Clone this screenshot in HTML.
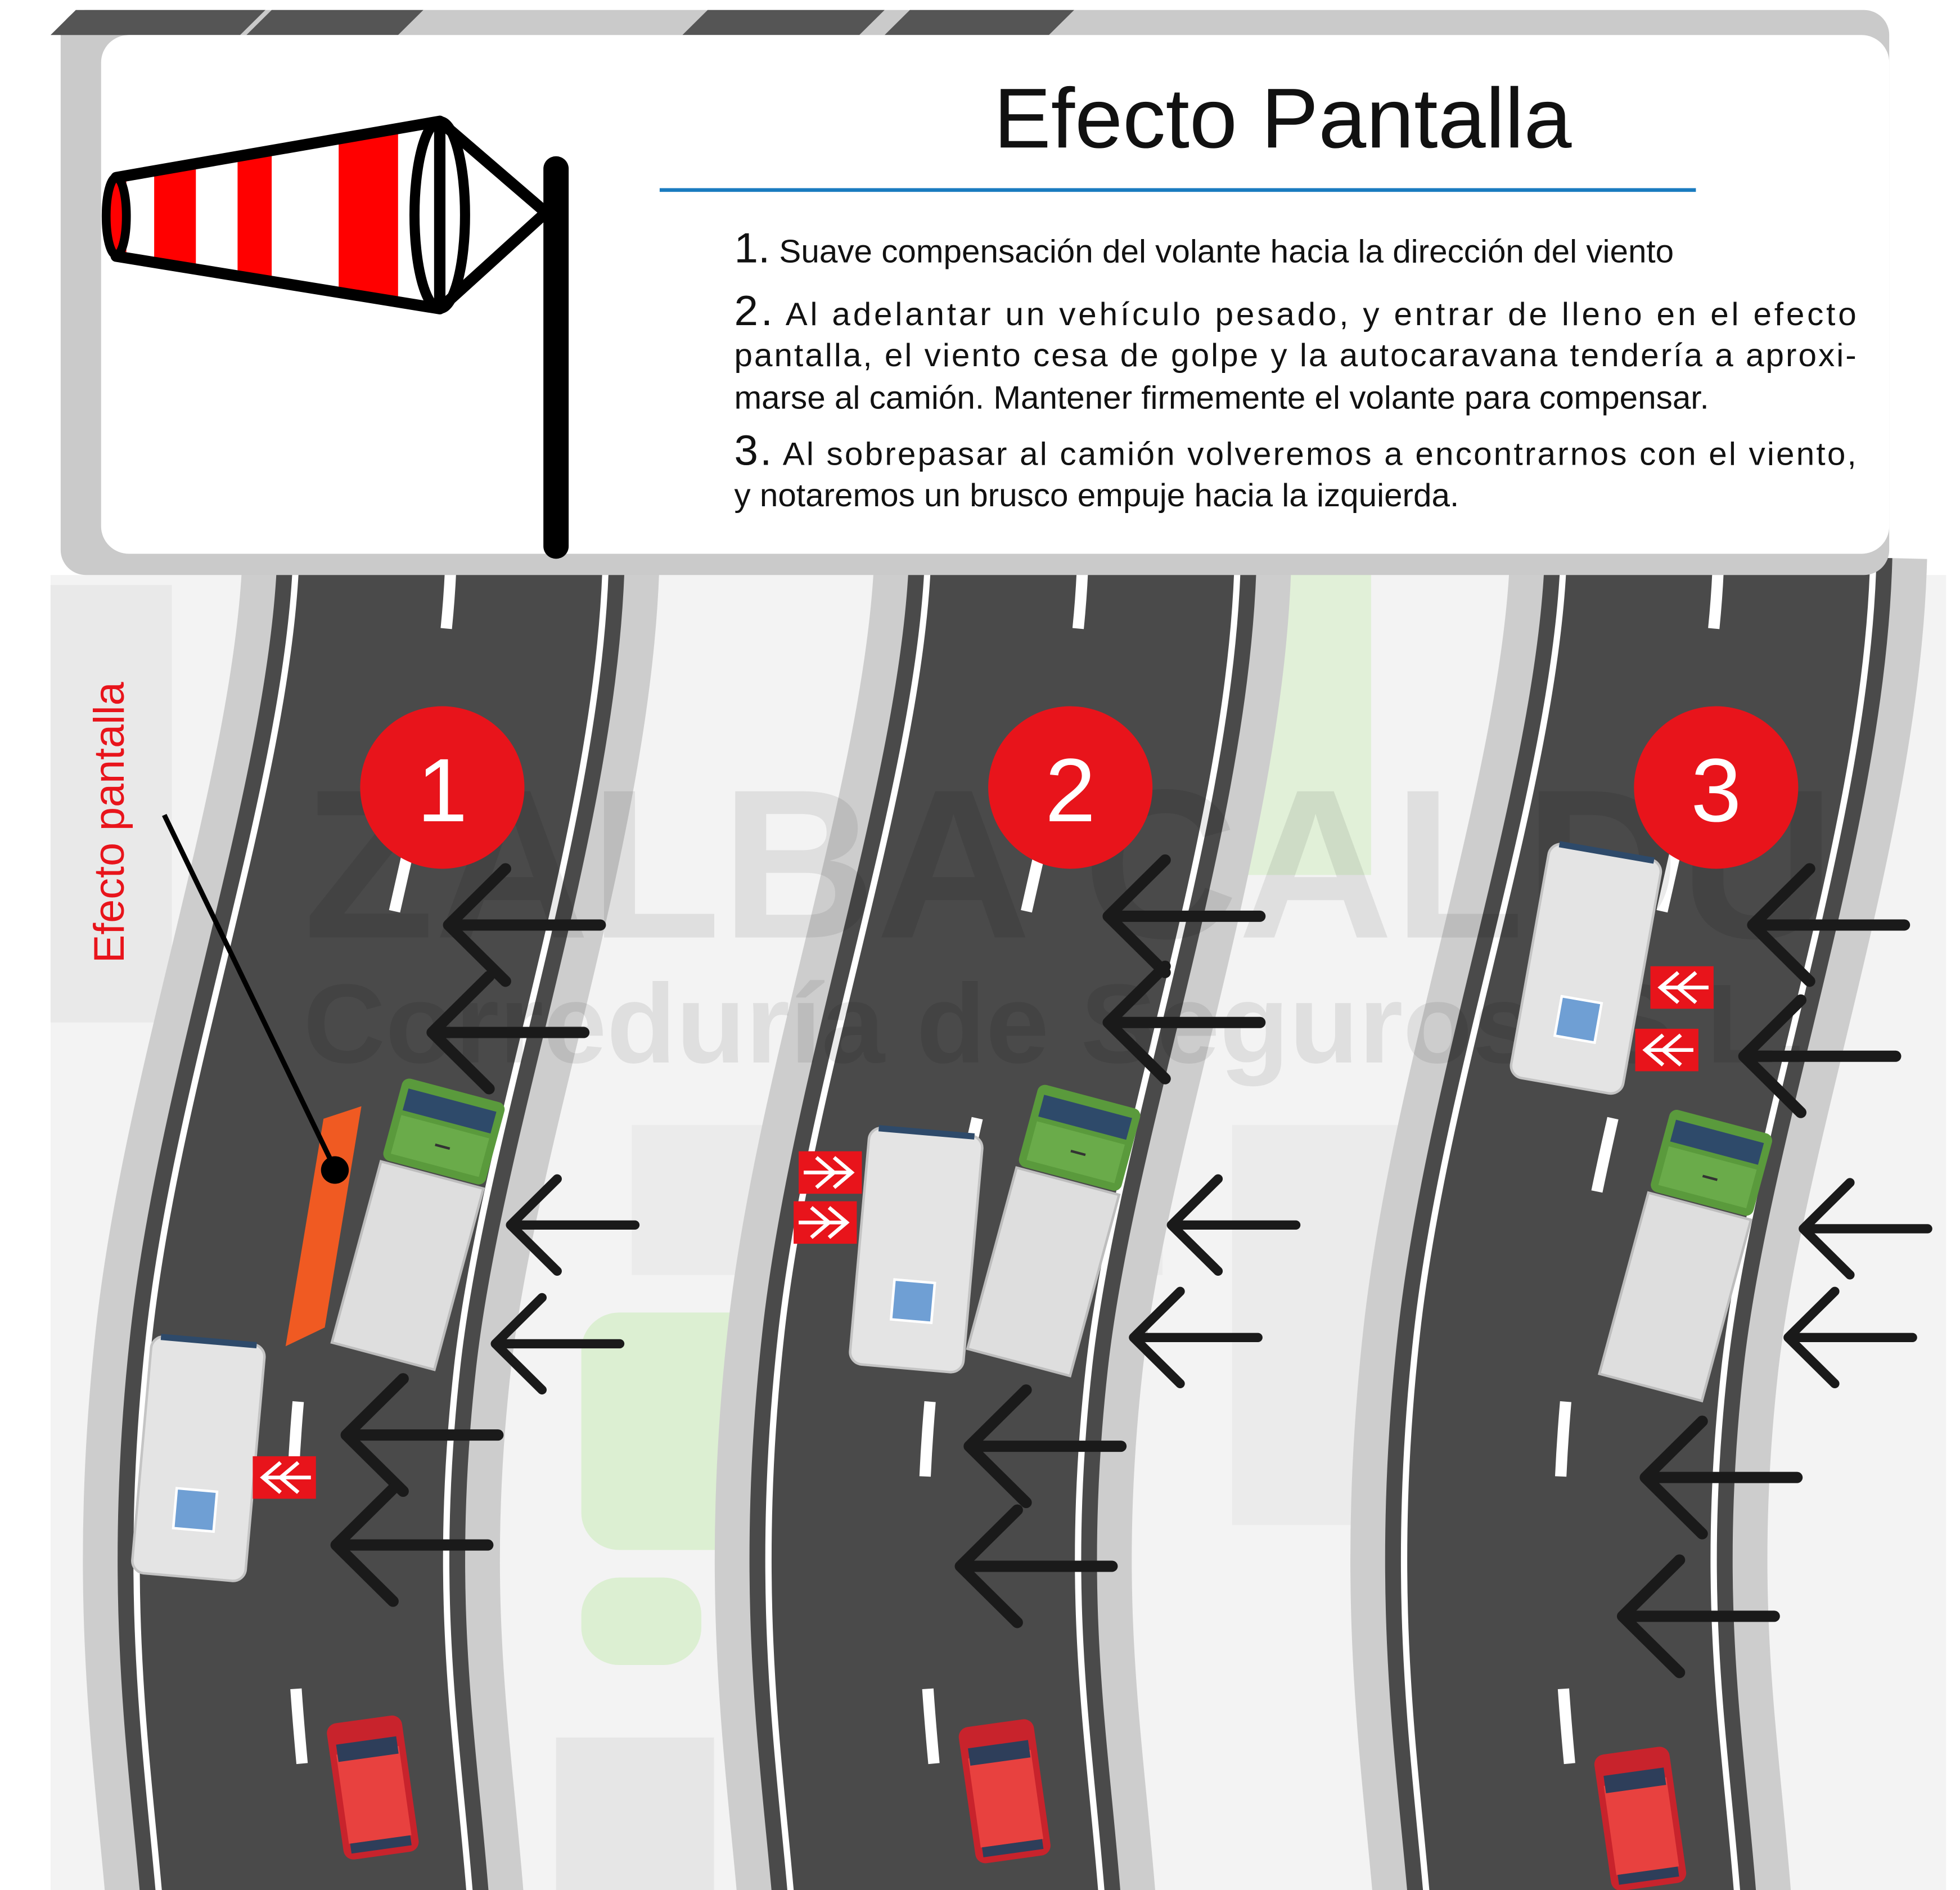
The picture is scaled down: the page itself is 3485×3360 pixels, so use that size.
<!DOCTYPE html>
<html><head><meta charset="utf-8"><style>
html,body{margin:0;padding:0;background:#fff}
svg{display:block}
text{font-family:"Liberation Sans",sans-serif}
</style></head><body>
<svg width="3485" height="3360" viewBox="0 0 1551 1512" preserveAspectRatio="none" xmlns="http://www.w3.org/2000/svg">
<defs>
<g id="arrow"><path d="M0,0 H120 M45,-45 L0,0 L45,45" fill="none" stroke="#1a1a1a" stroke-width="9" stroke-linecap="round" stroke-linejoin="round"/></g>
<g id="truck">
<rect x="-42" y="0" width="84" height="150" fill="#dedede" stroke="#bdbdbd" stroke-width="2"/>
<rect x="-42" y="-70" width="84" height="68" rx="6" fill="#5a9a3c"/>
<rect x="-36" y="-62" width="72" height="18" fill="#2e4a6a"/>
<rect x="-36" y="-40" width="72" height="32" fill="#6aab4a"/>
<line x1="-4" y1="-24" x2="8" y2="-24" stroke="#333" stroke-width="2"/>
</g>
<g id="van">
<rect x="-45" y="-95" width="90" height="190" rx="10" fill="#e4e4e4" stroke="#c4c4c4" stroke-width="2"/>
<rect x="-38" y="-97" width="76" height="5" fill="#2e4a6a"/>
<rect x="-15" y="25" width="32" height="32" fill="#6f9fd4" stroke="#fff" stroke-width="2"/>
</g>
<g id="car">
<rect x="-30" y="-55" width="60" height="110" rx="8" fill="#c8232c"/>
<rect x="-25" y="-30" width="50" height="72" fill="#e8413f"/>
<rect x="-24" y="-38" width="48" height="14" fill="#2e3e5a"/>
<rect x="-24" y="42" width="48" height="8" fill="#2e3e5a"/>
</g>
<g id="signL"><rect x="0" y="0" width="50" height="34" fill="#e8141b"/><path d="M22,5 L8,17 L22,29 M36,5 L22,17 L36,29 M10,17 H46" fill="none" stroke="#fff" stroke-width="3"/></g>
<g id="signR"><rect x="0" y="0" width="50" height="34" fill="#e8141b"/><path d="M28,5 L42,17 L28,29 M14,5 L28,17 L14,29 M4,17 H40" fill="none" stroke="#fff" stroke-width="3"/></g>
<path id="road" d="M357,443 C352,640 262,880 240,1080 S240,1400 250,1530"/>
</defs>
<rect width="1551" height="1512" fill="#fff"/>
<rect x="40" y="460" width="1500" height="1052" fill="#f3f3f3"/>
<rect x="40" y="468" width="96" height="350" fill="#e9e9e9"/>
<rect x="460" y="1050" width="150" height="190" rx="30" fill="#dcefd2"/>
<rect x="460" y="1262" width="95" height="70" rx="30" fill="#dcefd2"/>
<rect x="975" y="450" width="110" height="250" fill="#e1f0d8"/>
<rect x="500" y="900" width="420" height="120" fill="#ebebeb"/>
<rect x="975" y="900" width="135" height="320" fill="#ebebeb"/>
<rect x="440" y="1390" width="125" height="122" fill="#e6e6e6"/>
<!-- roads -->
<g fill="none">
<g><use href="#road" stroke="#cdcdcd" stroke-width="330"/><use href="#road" stroke="#4a4a4a" stroke-width="275"/><use href="#road" stroke="#fff" stroke-width="250"/><use href="#road" stroke="#4a4a4a" stroke-width="240"/><use href="#road" stroke="#fff" stroke-width="9" stroke-dasharray="60 170"/></g>
<g transform="translate(500,0)"><use href="#road" stroke="#cdcdcd" stroke-width="330"/><use href="#road" stroke="#4a4a4a" stroke-width="275"/><use href="#road" stroke="#fff" stroke-width="250"/><use href="#road" stroke="#4a4a4a" stroke-width="240"/><use href="#road" stroke="#fff" stroke-width="9" stroke-dasharray="60 170"/></g>
<g transform="translate(1003,0)"><use href="#road" stroke="#cdcdcd" stroke-width="330"/><use href="#road" stroke="#4a4a4a" stroke-width="275"/><use href="#road" stroke="#fff" stroke-width="250"/><use href="#road" stroke="#4a4a4a" stroke-width="240"/><use href="#road" stroke="#fff" stroke-width="9" stroke-dasharray="60 170"/></g>
</g>
<!-- header -->
<rect x="48" y="8" width="1447" height="452" rx="20" fill="#cacaca"/>
<path d="M60,8 h150 l-20,20 h-150z M215,8 h120 l-20,20 h-120z M560,8 h140 l-20,20 h-140z M720,8 h130 l-20,20 h-130z" fill="#555"/>
<rect x="80" y="28" width="1415" height="415" rx="22" fill="#fff"/>
<text x="1015" y="118" font-size="68" text-anchor="middle" fill="#111">Efecto Pantalla</text>
<line x1="522" y1="152" x2="1342" y2="152" stroke="#1a7bbf" stroke-width="3"/>
<g font-size="26" fill="#111">
<text x="581" y="210"><tspan font-size="34">1.</tspan> Suave compensación del volante hacia la dirección del viento</text>
<text x="581" y="260" textLength="888" lengthAdjust="spacing"><tspan font-size="34">2.</tspan> Al adelantar un vehículo pesado, y entrar de lleno en el efecto</text>
<text x="581" y="293" textLength="888" lengthAdjust="spacing">pantalla, el viento cesa de golpe y la autocaravana tendería a aproxi-</text>
<text x="581" y="327">marse al camión. Mantener firmemente el volante para compensar.</text>
<text x="581" y="372" textLength="888" lengthAdjust="spacing"><tspan font-size="34">3.</tspan> Al sobrepasar al camión volveremos a encontrarnos con el viento,</text>
<text x="581" y="405">y notaremos un brusco empuje hacia la izquierda.</text>
</g>
<!-- windsock -->
<line x1="440" y1="135" x2="440" y2="437" stroke="#000" stroke-width="20" stroke-linecap="round"/>
<path d="M348,97 L432,170 L348,247" fill="none" stroke="#000" stroke-width="9"/>
<path d="M92,142 L348,97 L348,247 L92,205 Z" fill="#fff"/>
<path d="M122,137 L155,131 L155,213 L122,208Z M188,125 L215,120 L215,223 L188,218Z M268,111 L315,103 L315,241 L268,233Z" fill="#f00"/>
<path d="M92,142 L100,140 L100,206 L92,205Z" fill="#f00"/>
<path d="M92,142 L348,97 L348,247 L92,205 Z" fill="none" stroke="#000" stroke-width="9" stroke-linejoin="round"/>
<ellipse cx="348" cy="172" rx="20" ry="75" fill="none" stroke="#000" stroke-width="8"/>
<ellipse cx="92" cy="173" rx="8" ry="31" fill="#f00" stroke="#000" stroke-width="7"/>
<!-- watermark -->
<text x="240" y="750" font-size="170" font-weight="bold" fill="#000" opacity="0.08">ZALBA CALDU</text>
<text x="240" y="850" font-size="90" font-weight="bold" fill="#000" opacity="0.08">Correduría de Seguros, S.L.</text>
<!-- road1 vehicles -->
<polygon points="256,895 286,885 257,1062 226,1077" fill="#f05a22"/>
<g transform="translate(342,940) rotate(15)"><use href="#truck"/></g>
<g transform="translate(157,1167) rotate(5)"><use href="#van"/></g>
<g transform="translate(295,1430) rotate(-8)"><use href="#car"/></g>
<use href="#signL" x="200" y="1165"/>
<line x1="130" y1="652" x2="265" y2="935" stroke="#000" stroke-width="4"/>
<circle cx="265" cy="936" r="11" fill="#000"/>
<text transform="translate(98,658) rotate(-90)" font-size="34" fill="#e8141b" text-anchor="middle">Efecto pantalla</text>
<!-- road2 vehicles -->
<g transform="translate(845,945) rotate(15)"><use href="#truck"/></g>
<g transform="translate(725,1000) rotate(5)"><use href="#van"/></g>
<g transform="translate(795,1433) rotate(-8)"><use href="#car"/></g>
<use href="#signR" x="632" y="921"/>
<use href="#signR" x="628" y="961"/>
<!-- road3 vehicles -->
<g transform="translate(1345,965) rotate(15)"><use href="#truck"/></g>
<g transform="translate(1255,775) rotate(10)"><use href="#van"/></g>
<g transform="translate(1298,1455) rotate(-8)"><use href="#car"/></g>
<use href="#signL" x="1306" y="773"/>
<use href="#signL" x="1294" y="823"/>
<!-- circles -->
<g font-size="72" fill="#fff" text-anchor="middle">
<circle cx="350" cy="630" r="65" fill="#e8141b"/><text x="350" y="657">1</text>
<circle cx="847" cy="630" r="65" fill="#e8141b"/><text x="847" y="657">2</text>
<circle cx="1358" cy="630" r="65" fill="#e8141b"/><text x="1358" y="657">3</text>
</g>
<!-- arrows -->
<use href="#arrow" transform="translate(355,740)"/>
<use href="#arrow" transform="translate(342,826)"/>
<use href="#arrow" transform="translate(404,980) scale(0.82)"/>
<use href="#arrow" transform="translate(392,1075) scale(0.82)"/>
<use href="#arrow" transform="translate(274,1148)"/>
<use href="#arrow" transform="translate(266,1236)"/>
<use href="#arrow" transform="translate(877,733)"/>
<use href="#arrow" transform="translate(877,818)"/>
<use href="#arrow" transform="translate(927,980) scale(0.82)"/>
<use href="#arrow" transform="translate(897,1070) scale(0.82)"/>
<use href="#arrow" transform="translate(767,1157)"/>
<use href="#arrow" transform="translate(760,1253)"/>
<use href="#arrow" transform="translate(1387,740)"/>
<use href="#arrow" transform="translate(1380,845)"/>
<use href="#arrow" transform="translate(1427,983) scale(0.82)"/>
<use href="#arrow" transform="translate(1415,1070) scale(0.82)"/>
<use href="#arrow" transform="translate(1302,1182)"/>
<use href="#arrow" transform="translate(1284,1293)"/>
</svg>
</body></html>
